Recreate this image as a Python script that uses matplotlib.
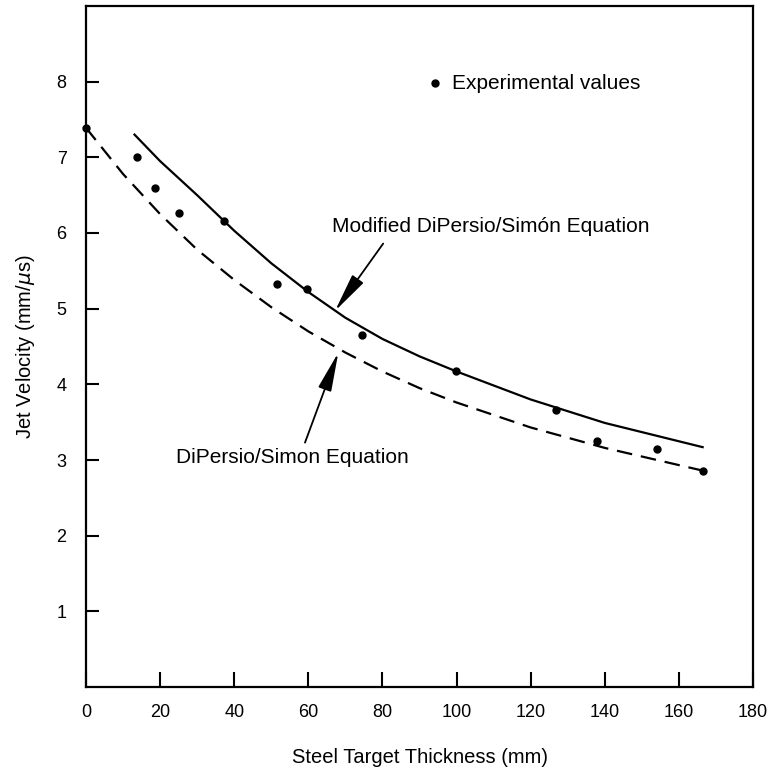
import matplotlib
matplotlib.use("Agg")
import matplotlib.pyplot as plt

plt.rcParams['font.family'] = ['Liberation Sans', 'DejaVu Sans']

# experimental points (steel target thickness mm, jet velocity mm/us)
exp_x = [0.0, 13.7, 18.5, 25.1, 37.2, 51.6, 59.6, 74.4, 99.9, 126.9, 137.9, 154.0, 166.4]
exp_y = [7.39, 7.00, 6.59, 6.26, 6.16, 5.33, 5.26, 4.65, 4.17, 3.66, 3.25, 3.15, 2.86]

# modified DiPersio/Simon curve
mod_x = [13.1, 20, 30, 40, 50, 60, 70, 80, 90, 100, 120, 140, 166.4]
mod_y = [7.30, 6.95, 6.50, 6.03, 5.60, 5.22, 4.88, 4.60, 4.37, 4.17, 3.80, 3.49, 3.17]

# DiPersio/Simon curve
dps_x = [0, 10, 20, 30, 40, 50, 60, 70, 80, 90, 100, 120, 140, 166.4]
dps_y = [7.39, 6.78, 6.25, 5.78, 5.38, 5.02, 4.70, 4.42, 4.17, 3.95, 3.76, 3.43, 3.16, 2.86]

x_ticks = [0, 20, 40, 60, 80, 100, 120, 140, 160, 180]
y_ticks = [1, 2, 3, 4, 5, 6, 7, 8]

fig = plt.figure(figsize=(7.71, 7.75), dpi=100)
ax = fig.add_axes([0.1115, 0.1135, 0.8652, 0.8788])

ax.plot(mod_x, mod_y, 'k-', lw=1.6)
ax.plot(dps_x, dps_y, 'k', lw=1.6, linestyle=(0, (7, 4)))
ax.plot(exp_x, exp_y, 'ko', ms=5, clip_on=False)

ax.set_xlim(0, 180)
ax.set_ylim(0, 9)
ax.set_xticks(x_ticks)
ax.set_yticks(y_ticks)
ax.tick_params(axis='x', direction='in', length=11, width=1.5, pad=12, labelsize=13)
ax.tick_params(axis='y', direction='in', length=9, width=1.5, pad=14, labelsize=13)
for s in ax.spines.values():
    s.set_linewidth(1.6)

ax.set_xlabel("Steel Target Thickness (mm)", fontsize=14.5, labelpad=20)
ax.set_ylabel(r"Jet Velocity (mm/$\mu$s)", fontsize=14.5, labelpad=14)

arrow = dict(arrowstyle='-|>,head_length=1.6,head_width=0.28',
             color='k', lw=1.3, shrinkA=0, shrinkB=0, mutation_scale=15)

# legend entry drawn as in the original
ax.plot([94.1], [7.98], 'ko', ms=5)
ax.text(98.9, 7.98, "Experimental values", fontsize=15, va='center', ha='left')

ax.text(66.3, 6.08, "Modified DiPersio/Simón Equation", fontsize=15, ha='left', va='center')
ax.annotate("", xy=(67.2, 4.97), xytext=(80.2, 5.86), arrowprops=arrow)

ax.text(24.3, 3.03, "DiPersio/Simon Equation", fontsize=15, ha='left', va='center')
ax.annotate("", xy=(68.1, 4.42), xytext=(59.1, 3.23), arrowprops=arrow)

fig.savefig("out.png", dpi=100)
